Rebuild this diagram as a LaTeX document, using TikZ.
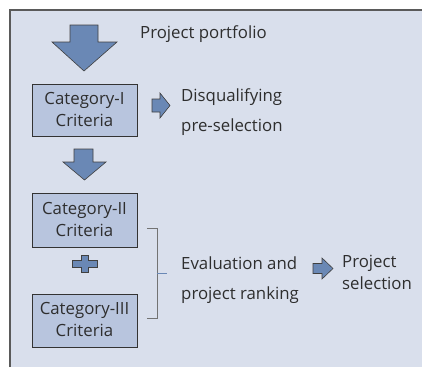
\documentclass[tikz,border=0pt]{standalone}
\usepackage{fontspec}
\setmainfont{Open Sans}
\definecolor{bgc}{HTML}{D9DFEC}
\definecolor{framec}{HTML}{5A5A5A}
\definecolor{boxc}{HTML}{B8C5DE}
\definecolor{arrc}{HTML}{6A88B5}
\definecolor{txtc}{HTML}{2E2E2E}
\definecolor{tickc}{HTML}{6A88B5}
\tikzset{
  blockarrow/.style={fill=arrc, draw=black!75, line width=0.6pt, line join=miter},
  critbox/.style={draw=black!80, fill=boxc, line width=0.8pt},
  lbl/.style={anchor=base west, inner sep=0pt, text=txtc, font=\fontsize{16.8}{20}\selectfont},
  boxlbl/.style={anchor=base, inner sep=0pt, text=txtc, font=\fontsize{16.8}{20}\selectfont},
  brk/.style={draw=black!55, line width=1pt},
}
\begin{document}
\begin{tikzpicture}[x=1pt,y=-1pt]
\useasboundingbox (0,0) rectangle (422,367);
% background
\fill[bgc] (10,10) rectangle (422,367);
\draw[framec, line width=2pt] (10,367) -- (10,10) -- (422,10);
% big arrow
\draw[blockarrow] (70,25) -- (98,25) -- (98,42) -- (117,42) -- (84,71) -- (52,42) -- (70,42) -- cycle;
\node[lbl] (pp) at (140,38.5) {Project portfolio};
% box 1
\draw[critbox] (32,84) rectangle (137,136);
\node[boxlbl] (c1a) at (84.5,104.5) {Category-I};
\node[boxlbl] (c1b) at (84.5,126.5) {Criteria};
% small arrow 1
\draw[blockarrow] (152,99) -- (160,99) -- (160,93) -- (170,105.5) -- (160,118) -- (160,112) -- (152,112) -- cycle;
\node[lbl] (dq) at (181,101.7) {Disqualifying};
\node[lbl] (ps) at (181,131.7) {pre-selection};
% arrow 2
\draw[blockarrow] (74,149) -- (93,149) -- (93,162) -- (106,162) -- (84.5,180) -- (63,162) -- (74,162) -- cycle;
% box 2
\draw[critbox] (32,193) rectangle (137,247);
\node[boxlbl] (c2a) at (84.5,214) {Category-II};
\node[boxlbl] (c2b) at (84.5,236) {Criteria};
% plus
\draw[blockarrow] (81,255) -- (88,255) -- (88,260) -- (97,260) -- (97,267) -- (88,267) -- (88,272) -- (81,272) -- (81,267) -- (72,267) -- (72,260) -- (81,260) -- cycle;
% box 3
\draw[critbox] (32,294) rectangle (137,347);
\node[boxlbl] (c3a) at (84.5,314.5) {Category-III};
\node[boxlbl] (c3b) at (84.5,336) {Criteria};
% bracket
\draw[brk] (147,228) -- (157,228) -- (157,318) -- (147,318);
\draw[tickc, line width=1pt] (157,273) -- (167,273);
\node[lbl] (ev) at (181,269.3) {Evaluation and};
\node[lbl] (pr) at (181,299) {project ranking};
% small arrow 3
\draw[blockarrow] (313,263.5) -- (322,263.5) -- (322,258) -- (333,268.5) -- (322,279) -- (322,273.5) -- (313,273.5) -- cycle;
\node[lbl] (pj) at (342,267.3) {Project};
\node[lbl] (sl) at (342,289.3) {selection};
\end{tikzpicture}
\end{document}
